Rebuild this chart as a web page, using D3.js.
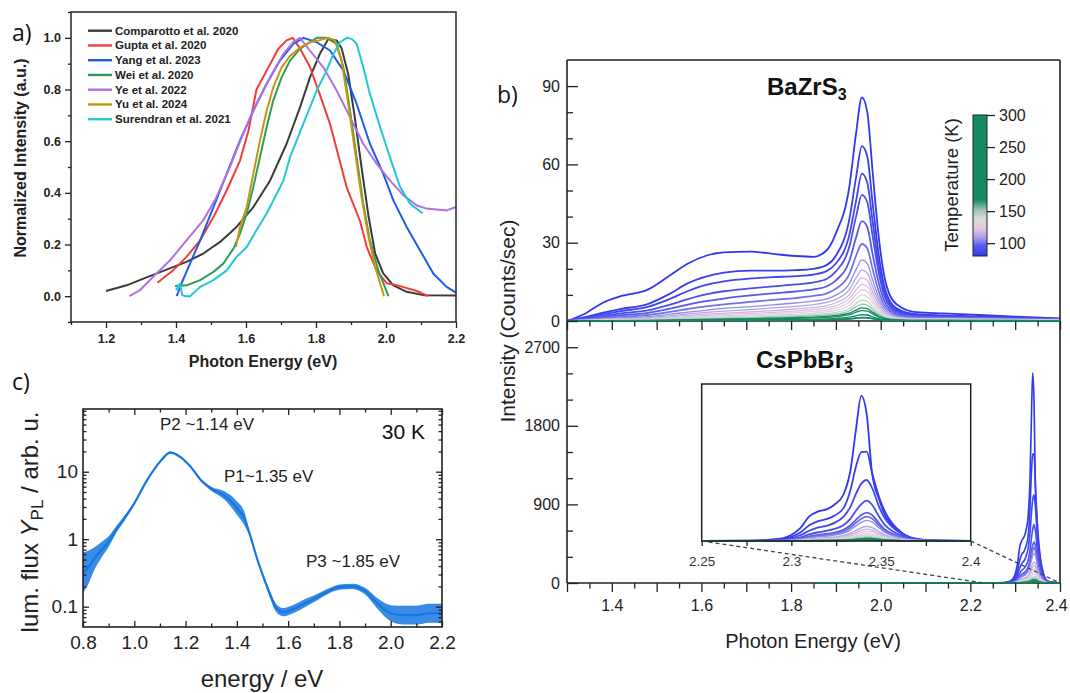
<!DOCTYPE html>
<html><head><meta charset="utf-8">
<script src="https://cdn.jsdelivr.net/npm/d3@7/dist/d3.min.js"></script>
<style>
html,body{margin:0;padding:0;background:#fff;}
svg{display:block;font-family:"Liberation Sans",Arial,sans-serif;}
</style></head>
<body><svg id="fig" width="1070" height="693"></svg>
<script>
// ================= DATA =================
// ---- Panel a: normalized PL of BaZrS3 from literature ([eV, a.u.]) ----
const comparotto = [[1.2,0.02],[1.259,0.042],[1.307,0.068],[1.373,0.103],[1.43,0.133],[1.478,0.165],[1.526,0.21],[1.573,0.268],[1.621,0.345],[1.669,0.448],[1.716,0.59],[1.754,0.73],[1.783,0.848],[1.811,0.938],[1.835,0.995],[1.859,0.99],[1.873,0.96],[1.892,0.86],[1.911,0.69],[1.93,0.5],[1.95,0.31],[1.969,0.165],[1.992,0.088],[2.021,0.042],[2.059,0.017],[2.107,0.004],[2.2,0.003]];
const gupta = [[1.347,0.052],[1.392,0.1],[1.43,0.152],[1.469,0.216],[1.507,0.306],[1.545,0.41],[1.583,0.525],[1.607,0.64],[1.63,0.8],[1.659,0.873],[1.692,0.957],[1.716,0.99],[1.733,1.0],[1.754,0.96],[1.783,0.886],[1.811,0.78],[1.84,0.667],[1.859,0.57],[1.888,0.42],[1.926,0.29],[1.945,0.19],[1.973,0.1],[2.002,0.05],[2.04,0.039],[2.088,0.02],[2.121,0.0]];
const yang = [[1.402,0.0],[1.416,0.05],[1.44,0.126],[1.469,0.216],[1.507,0.345],[1.545,0.474],[1.583,0.603],[1.621,0.718],[1.659,0.822],[1.697,0.912],[1.735,0.977],[1.764,1.0],[1.802,0.983],[1.84,0.951],[1.878,0.874],[1.916,0.745],[1.954,0.59],[1.992,0.474],[2.021,0.371],[2.059,0.268],[2.097,0.178],[2.135,0.088],[2.173,0.036],[2.2,0.014]];
const wei = [[1.397,0.039],[1.43,0.042],[1.469,0.062],[1.507,0.094],[1.535,0.126],[1.564,0.184],[1.583,0.242],[1.602,0.32],[1.621,0.423],[1.64,0.539],[1.659,0.655],[1.678,0.758],[1.702,0.848],[1.726,0.912],[1.754,0.957],[1.783,0.983],[1.802,1.0],[1.83,1.0],[1.859,0.977],[1.878,0.887],[1.897,0.72],[1.916,0.539],[1.935,0.358],[1.954,0.216],[1.978,0.1],[2.007,0.0]];
const ye = [[1.267,0.0],[1.297,0.023],[1.335,0.075],[1.383,0.139],[1.43,0.216],[1.478,0.294],[1.516,0.384],[1.554,0.5],[1.592,0.629],[1.63,0.745],[1.669,0.848],[1.707,0.938],[1.735,0.983],[1.754,1.0],[1.783,0.95],[1.821,0.886],[1.859,0.796],[1.897,0.693],[1.935,0.59],[1.973,0.513],[2.011,0.448],[2.05,0.39],[2.088,0.351],[2.116,0.339],[2.173,0.332],[2.2,0.345]];
const yu = [[1.571,0.19],[1.583,0.268],[1.602,0.345],[1.621,0.474],[1.64,0.603],[1.659,0.718],[1.678,0.809],[1.702,0.886],[1.726,0.93],[1.754,0.962],[1.783,0.983],[1.811,0.991],[1.835,1.0],[1.854,0.99],[1.873,0.912],[1.892,0.745],[1.911,0.564],[1.93,0.384],[1.95,0.23],[1.969,0.113],[1.992,0.01],[1.994,0.0]];
const surendran = [[1.4,0.023],[1.411,0.049],[1.418,0.004],[1.425,0.0],[1.44,0.0],[1.469,0.036],[1.507,0.062],[1.545,0.1],[1.573,0.152],[1.602,0.19],[1.63,0.255],[1.659,0.32],[1.688,0.397],[1.707,0.448],[1.726,0.539],[1.745,0.603],[1.764,0.668],[1.783,0.732],[1.802,0.796],[1.826,0.861],[1.85,0.938],[1.869,0.983],[1.888,1.0],[1.902,0.996],[1.916,0.977],[1.935,0.887],[1.954,0.783],[1.983,0.655],[2.011,0.539],[2.04,0.423],[2.069,0.358],[2.105,0.32]];
const aNames = ["Comparotto et al. 2020","Gupta et al. 2020","Yang et al. 2023","Wei et al. 2020","Ye et al. 2022","Yu et al. 2024","Surendran et al. 2021"];
const aColors = ["#3a3a3a","#f23b3b","#1f5ce6","#2c9e57","#b070e8","#c99510","#22c8d2"];
const aTickX = [1.2,1.4,1.6,1.8,2.0,2.2];
const aMinorX = [1.1,1.3,1.5,1.7,1.9,2.1];
const aTickY = [0,0.2,0.4,0.6,0.8,1.0];
const aMinorY = [-0.1,0.1,0.3,0.5,0.7,0.9,1.1];

// ---- Panel b top: BaZrS3 temperature-dependent PL ----
const bazE = [1.30,1.34,1.38,1.42,1.48,1.53,1.57,1.61,1.65,1.71,1.76,1.81,1.85,1.88,1.90,1.93,1.945,1.958,1.97,1.982,1.995,2.007,2.022,2.045,2.08,2.14,2.22,2.30,2.40];
const tempsK = [80,83,86,90,95,100,105,110,116,121,127,134,142,152,168,200,250,300];
const bazI = [
 [0,2.8,7,9.5,12,17.5,22,25,26.3,26.6,25.7,24.9,24.6,27.2,33.6,51.5,72,85.7,80,57,33,18,9.3,5.3,3.4,2.9,2.3,1.7,1.0],
 [0,1.5,3.2,4.6,6.5,10.5,14.5,17,18.5,19.3,19.3,19.5,20,21.5,25,39,55,67,63,45,26,14,7.2,4,2.6,2.1,1.7,1.3,0.8],
 [0,1.2,2.6,3.8,5.4,8.5,11.5,13.8,15.2,16.3,16.8,17.2,17.8,19.2,22,33,46,56.5,53,38,22,12,6.2,3.4,2.2,1.8,1.5,1.1,0.7],
 [0,0.9,2.0,2.9,4.1,6.3,8.4,10.2,11.4,12.5,13.3,14,14.8,16.2,19,28.5,40,48.3,45.5,32.5,19,10.3,5.3,2.9,1.9,1.6,1.3,1.0,0.6],
 [0,0.7,1.5,2.2,3.1,4.7,6.3,7.6,8.6,9.8,10.6,11.3,12.1,13.3,15.6,23,32,38.3,36,25.5,15,8.2,4.3,2.4,1.6,1.4,1.2,0.9,0.6],
 [0,0.5,1.1,1.6,2.3,3.5,4.6,5.6,6.4,7.3,8.1,8.8,9.6,10.6,12.4,18,25,29.5,27.8,19.8,11.7,6.4,3.4,1.9,1.3,1.2,1.0,0.8,0.5],
 [0,0.4,0.8,1.2,1.7,2.6,3.4,4.1,4.8,5.5,6.2,6.9,7.6,8.5,9.9,14.3,19.8,23.4,22,15.7,9.3,5.1,2.7,1.5,1.1,1.0,0.9,0.7,0.5],
 [0,0.3,0.6,0.9,1.3,2.0,2.7,3.3,3.8,4.4,5.0,5.6,6.3,7.1,8.3,12,16.5,19.5,18.4,13.1,7.8,4.3,2.3,1.3,0.9,0.9,0.8,0.6,0.4],
 [0,0.25,0.5,0.7,1.0,1.6,2.1,2.6,3.0,3.5,4.0,4.6,5.2,5.9,7.0,10.1,14,16.5,15.6,11.1,6.6,3.6,1.9,1.1,0.8,0.8,0.7,0.5,0.4],
 [0,0.2,0.4,0.6,0.8,1.3,1.7,2.1,2.5,2.9,3.3,3.8,4.4,5.0,5.9,8.6,11.9,14,13.2,9.4,5.6,3.1,1.6,0.9,0.7,0.7,0.6,0.5,0.3],
 [0,0.15,0.3,0.45,0.65,1.0,1.35,1.7,2.0,2.4,2.8,3.2,3.7,4.2,5.0,7.3,10.1,12,11.3,8.0,4.8,2.6,1.4,0.8,0.6,0.6,0.5,0.4,0.3],
 [0,0.1,0.25,0.35,0.5,0.8,1.1,1.35,1.6,1.9,2.25,2.6,3.0,3.5,4.1,6.0,8.4,10,9.4,6.7,4.0,2.2,1.2,0.7,0.5,0.5,0.4,0.35,0.25],
 [0,0.1,0.2,0.3,0.4,0.6,0.85,1.05,1.25,1.5,1.8,2.1,2.4,2.8,3.3,4.8,6.7,8,7.5,5.4,3.2,1.8,0.95,0.55,0.4,0.4,0.35,0.3,0.2],
 [0,0.05,0.15,0.2,0.3,0.5,0.65,0.8,1.0,1.2,1.45,1.7,1.95,2.3,2.7,3.9,5.5,6.5,6.1,4.4,2.6,1.45,0.8,0.45,0.35,0.3,0.3,0.25,0.2],
 [0,0.05,0.1,0.15,0.2,0.35,0.5,0.6,0.75,0.9,1.1,1.3,1.5,1.75,2.1,3.0,4.2,5,4.7,3.4,2.0,1.1,0.6,0.35,0.25,0.25,0.2,0.2,0.15],
 [0,0.04,0.08,0.12,0.16,0.28,0.4,0.48,0.6,0.72,0.88,1.04,1.2,1.4,1.7,2.4,3.4,4,3.8,2.7,1.6,0.9,0.5,0.3,0.2,0.2,0.16,0.16,0.12],
 [0,0.03,0.05,0.07,0.1,0.17,0.24,0.3,0.36,0.44,0.53,0.62,0.72,0.84,1.0,1.45,2.0,2.4,2.3,1.6,0.95,0.55,0.3,0.18,0.12,0.12,0.1,0.1,0.08],
 [0,0.02,0.03,0.04,0.06,0.1,0.14,0.17,0.2,0.25,0.3,0.35,0.4,0.48,0.56,0.8,1.1,1.3,1.25,0.9,0.55,0.3,0.17,0.1,0.07,0.07,0.06,0.06,0.05]
];
// ---- Panel b bottom: CsPbBr3 temperature-dependent PL ----
const csE = [1.86,2.25,2.277,2.292,2.299,2.305,2.31,2.315,2.32,2.324,2.329,2.333,2.336,2.339,2.342,2.345,2.349,2.352,2.356,2.362,2.367,2.375,2.39,2.4];
const csI = [
 [0,0,5,33,88,215,408,490,529,600,766,1180,1840,2405,2100,1124,683,440,270,120,50,15,4,0],
 [0,0,4,22,60,140,260,330,365,420,540,850,1230,1470,1480,1130,720,500,300,130,52,16,4,0],
 [0,0,3,14,40,95,170,225,255,300,400,570,780,950,1010,880,560,380,240,110,45,14,3,0],
 [0,0,2,9,25,60,110,145,170,200,260,370,500,610,668,600,400,270,170,80,33,10,2,0],
 [0,0,1,6,17,42,78,102,120,140,185,260,350,430,470,430,290,195,125,58,24,8,2,0],
 [0,0,1,5,14,35,65,86,100,118,156,222,300,370,405,372,252,170,108,50,21,7,2,0],
 [0,0,1,4,11,28,53,70,82,97,128,185,250,308,340,315,215,145,92,43,18,6,1,0],
 [0,0,0.5,3,8,19,36,48,57,67,89,130,176,218,240,224,154,104,66,31,13,4,1,0],
 [0,0,0.5,2,6,15,29,39,46,54,72,106,144,178,196,184,127,86,55,26,11,3,1,0],
 [0,0,0,2,5,12,23,31,37,44,58,86,117,144,159,150,104,71,45,21,9,3,1,0],
 [0,0,0,1,4,9,17,23,28,33,44,65,88,109,120,114,80,54,35,16,7,2,0,0],
 [0,0,0,1,3,7,14,19,23,27,36,53,72,89,98,94,66,45,29,14,6,2,0,0],
 [0,0,0,1,2,5,11,15,18,21,28,41,56,69,76,73,52,35,23,11,5,1,0,0],
 [0,0,0,0,2,4,8,11,14,16,22,32,44,54,59,57,41,28,18,9,4,1,0,0],
 [0,0,0,0,1,3,6,8,10,12,16,23,32,40,43,42,30,21,13,7,3,1,0,0],
 [0,0,0,0,1,2,4,6,7,9,12,17,23,29,31,31,22,15,10,5,2,1,0,0],
 [0,0,0,0,1,1,3,4,5,6,8,12,16,20,22,21,15,10,7,3,1,0,0,0],
 [0,0,0,0,0,1,2,3,3,4,5,7,10,12,14,13,10,7,4,2,1,0,0,0]
];
const cbStopsT = [80,96,110,124,138,152,168,300];
const cbStopsC = ["#3038ee","#5a5cea","#b0a6e6","#e8c8e4","#d4dcd6","#9cc4b0","#138a5f","#138a5f"];
const cbTicks = [100,150,200,250,300];
const bTickX = [1.4,1.6,1.8,2.0,2.2,2.4];
const bMajorX = [1.3,1.4,1.5,1.6,1.7,1.8,1.9,2.0,2.1,2.2,2.3,2.4];
const bMinorX = [1.35,1.45,1.55,1.65,1.75,1.85,1.95,2.05,2.15,2.25,2.35];
const bTopTickY = [0,30,60,90];
const bTopMinorY = [10,20,40,50,70,80];
const bBotTickY = [0,900,1800,2700];
const bBotMinorY = [300,600,1200,1500,2100,2400];
const insetTickX = [2.25,2.3,2.35,2.4];
const insetMinorX = [2.275,2.325,2.375];
const insetLinks = [[2.25,2.23],[2.4,2.4]];

// ---- Panel c: PL at 30 K (log scale) ----
const cE =    [0.80,0.82,0.84,0.87,0.90,0.93,0.96,1.00,1.05,1.10,1.14,1.18,1.22,1.26,1.30,1.35,1.40,1.43,1.45,1.48,1.50,1.53,1.55,1.58,1.62,1.66,1.70,1.75,1.80,1.85,1.90,1.95,2.00,2.05,2.10,2.15,2.20];
const cFlux = [0.32,0.38,0.49,0.68,0.92,1.4,2.0,3.4,7.5,14,19.2,16.5,11.8,7.5,5.6,4.5,2.9,2.0,1.2,0.5,0.3,0.15,0.1,0.083,0.092,0.11,0.13,0.165,0.195,0.2,0.17,0.11,0.08,0.075,0.075,0.08,0.08];
const cNoise = [0.3,0.25,0.18,0.12,0.08,0.05,0.04,0.02,0.015,0.015,0.015,0.015,0.015,0.02,0.03,0.06,0.1,0.1,0.03,0.02,0.02,0.05,0.06,0.06,0.06,0.06,0.05,0.04,0.04,0.04,0.05,0.08,0.12,0.14,0.14,0.14,0.14];
const cTickX = [0.8,1.0,1.2,1.4,1.6,1.8,2.0,2.2];
const cMinorX = [0.9,1.1,1.3,1.5,1.7,1.9,2.1];
const cTickY = [0.1,1,10];
const cMinorY = [0.06,0.07,0.08,0.09,0.2,0.3,0.4,0.5,0.6,0.7,0.8,0.9,2,3,4,5,6,7,8,9,20,30,40,50,60,70,80];

// ================= DRAW =================
const svg = d3.select("#fig");
const FONT = '"Liberation Sans", Arial, sans-serif';
const LBL = '"Open Sans", "Liberation Sans", sans-serif';

function styleAxis(g, size, weight, color) {
  g.attr("font-family", FONT).attr("font-size", size);
  g.select(".domain").remove();
  g.selectAll(".tick line").attr("stroke", "#222").attr("stroke-width", 1.3);
  g.selectAll(".tick text").attr("fill", color).attr("font-weight", weight);
  return g;
}
function frame(x0, y0, x1, y1, sw, col) {
  svg.append("rect").attr("x", x0).attr("y", y0).attr("width", x1 - x0).attr("height", y1 - y0)
    .attr("fill", "none").attr("stroke", col).attr("stroke-width", sw);
}

// ---------- Panel a ----------
const xA = d3.scaleLinear().domain([1.1, 2.2]).range([71, 456]);
const yA = d3.scaleLinear().domain([-0.1, 1.1]).range([322, 12]);
const aData = [comparotto, gupta, yang, wei, ye, yu, surendran];
const lineA = d3.line().x(d => xA(d[0])).y(d => yA(d[1]));
aData.forEach((s, i) => {
  svg.append("path").attr("d", lineA(s)).attr("fill", "none").attr("stroke", aColors[i])
    .attr("stroke-width", 2).attr("stroke-linejoin", "round");
});
frame(71, 12, 456, 322, 1.6, "#333");
styleAxis(svg.append("g").attr("transform", "translate(0,322)")
  .call(d3.axisBottom(xA).tickValues(aTickX).tickSize(6).tickPadding(6).tickFormat(d3.format(".1f"))), 12.5, "bold", "#222");
styleAxis(svg.append("g").attr("transform", "translate(0,322)")
  .call(d3.axisBottom(xA).tickValues(aMinorX).tickSize(3).tickFormat("")), 12, "bold", "#222");
styleAxis(svg.append("g").attr("transform", "translate(71,0)")
  .call(d3.axisLeft(yA).tickValues(aTickY).tickSize(6).tickPadding(4).tickFormat(d3.format(".1f"))), 12.5, "bold", "#222");
styleAxis(svg.append("g").attr("transform", "translate(71,0)")
  .call(d3.axisLeft(yA).tickValues(aMinorY).tickSize(3).tickFormat("")), 12, "bold", "#222");
svg.append("text").attr("x", 263).attr("y", 367).attr("text-anchor", "middle")
  .attr("font-family", FONT).attr("font-weight", "bold").attr("font-size", 16).attr("fill", "#222").text("Photon Energy (eV)");
svg.append("text").attr("transform", "translate(26,158) rotate(-90)").attr("text-anchor", "middle")
  .attr("font-family", FONT).attr("font-weight", "bold").attr("font-size", 16).attr("fill", "#222").text("Normalized Intensity (a.u.)");
// legend
const leg = svg.append("g");
aNames.forEach((n, i) => {
  const y = 30.7 + i * 14.75;
  leg.append("line").attr("x1", 88).attr("x2", 112).attr("y1", y).attr("y2", y)
    .attr("stroke", aColors[i]).attr("stroke-width", 2.4);
  leg.append("text").attr("x", 115).attr("y", y).attr("dy", "0.35em").attr("font-family", FONT)
    .attr("font-weight", "bold").attr("font-size", 11.5).attr("fill", "#222").text(n);
});
svg.append("text").attr("x", 12).attr("y", 41).attr("font-family", LBL).attr("font-size", 23).attr("fill", "#111").text("a)");

// ---------- Panel c ----------
const xC = d3.scaleLinear().domain([0.8, 2.2]).range([83, 442]);
const yC = d3.scaleLog().domain([0.05, 85]).range([627, 409]);
const cPts = cE.map((e, i) => ({ e, f: cFlux[i], n: cNoise[i] }));
const cBlue = "#1677e0";
svg.append("defs").append("clipPath").attr("id", "clipC").append("rect")
  .attr("x", 83).attr("y", 409).attr("width", 359).attr("height", 218);
const gc = svg.append("g").attr("clip-path", "url(#clipC)");
gc.append("path").attr("d", d3.area().x(d => xC(d.e)).y0(d => yC(d.f * Math.pow(10, -d.n))).y1(d => yC(d.f * Math.pow(10, d.n))).curve(d3.curveMonotoneX)(cPts))
  .attr("fill", cBlue).attr("opacity", 0.85);
gc.append("path").attr("d", d3.line().x(d => xC(d.e)).y(d => yC(d.f)).curve(d3.curveMonotoneX)(cPts))
  .attr("fill", "none").attr("stroke", cBlue).attr("stroke-width", 2.2);
frame(83, 409, 442, 627, 1.6, "#222");
styleAxis(svg.append("g").attr("transform", "translate(0,627)")
  .call(d3.axisBottom(xC).tickValues(cTickX).tickSize(-6).tickPadding(9).tickFormat(d3.format(".1f"))), 19, "normal", "#222");
styleAxis(svg.append("g").attr("transform", "translate(0,627)")
  .call(d3.axisBottom(xC).tickValues(cMinorX).tickSize(-3.5).tickFormat("")), 19, "normal", "#222");
styleAxis(svg.append("g").attr("transform", "translate(0,409)")
  .call(d3.axisTop(xC).tickValues(cTickX).tickSize(-6).tickFormat("")), 19, "normal", "#222");
styleAxis(svg.append("g").attr("transform", "translate(0,409)")
  .call(d3.axisTop(xC).tickValues(cMinorX).tickSize(-3.5).tickFormat("")), 19, "normal", "#222");
styleAxis(svg.append("g").attr("transform", "translate(83,0)")
  .call(d3.axisLeft(yC).tickValues(cTickY).tickSize(-6).tickPadding(5).tickFormat(d => d3.format("~g")(d))), 19, "normal", "#222");
styleAxis(svg.append("g").attr("transform", "translate(83,0)")
  .call(d3.axisLeft(yC).tickValues(cMinorY).tickSize(-3.5).tickFormat("")), 19, "normal", "#222");
styleAxis(svg.append("g").attr("transform", "translate(442,0)")
  .call(d3.axisRight(yC).tickValues(cTickY).tickSize(-6).tickFormat("")), 19, "normal", "#222");
styleAxis(svg.append("g").attr("transform", "translate(442,0)")
  .call(d3.axisRight(yC).tickValues(cMinorY).tickSize(-3.5).tickFormat("")), 19, "normal", "#222");
svg.append("text").attr("x", 262).attr("y", 687).attr("text-anchor", "middle").attr("font-family", FONT)
  .attr("font-size", 24).attr("fill", "#222").text("energy / eV");
const cy = svg.append("text").attr("transform", "translate(38,522) rotate(-90)").attr("text-anchor", "middle")
  .attr("font-family", FONT).attr("font-size", 24).attr("fill", "#222");
cy.append("tspan").text("lum. flux ");
cy.append("tspan").attr("font-style", "italic").text("Y");
cy.append("tspan").attr("font-size", 17).attr("dy", 5).text("PL");
cy.append("tspan").attr("dy", -5).text(" / arb. u.");
const ann = [["P2 ~1.14 eV", 160, 430], ["P1~1.35 eV", 224, 482], ["P3 ~1.85 eV", 306, 567]];
ann.forEach(a => svg.append("text").attr("x", a[1]).attr("y", a[2]).attr("font-family", FONT)
  .attr("font-size", 17).attr("fill", "#222").text(a[0]));
svg.append("text").attr("x", 425).attr("y", 439).attr("text-anchor", "end").attr("font-family", FONT)
  .attr("font-size", 21).attr("fill", "#111").text("30 K");
svg.append("text").attr("x", 12).attr("y", 390).attr("font-family", LBL).attr("font-size", 23).attr("fill", "#111").text("c)");

// ---------- Panel b ----------
const xB = d3.scaleLinear().domain([1.3, 2.4]).range([567, 1060]);
const yTop = d3.scaleLinear().domain([0, 100]).range([321, 60]);
const yBot = d3.scaleLinear().domain([0, 3000]).range([583, 321]);
const xIn = d3.scaleLinear().domain([2.25, 2.4]).range([701.7, 970.7]);
const yIn = d3.scaleLinear().domain([0, 2600]).range([541, 384]);
const tColor = d3.scaleLinear().domain(cbStopsT).range(cbStopsC).clamp(true);
const lw = t => (t <= 100 ? 1.8 : 1.3);

// BaZrS3 curves
bazI.forEach((vals, k) => {
  const pts = vals.map((v, i) => [bazE[i], v]);
  svg.append("path").attr("d", d3.line().x(d => xB(d[0])).y(d => yTop(d[1])).curve(d3.curveMonotoneX)(pts))
    .attr("fill", "none").attr("stroke", tColor(tempsK[k])).attr("stroke-width", lw(tempsK[k]));
});
// CsPbBr3 main curves
csI.forEach((vals, k) => {
  const pts = vals.map((v, i) => [csE[i], v]);
  svg.append("path").attr("d", d3.line().x(d => xB(d[0])).y(d => yBot(d[1])).curve(d3.curveMonotoneX)(pts))
    .attr("fill", "none").attr("stroke", tColor(tempsK[k])).attr("stroke-width", lw(tempsK[k]) * 0.9);
});
// frame & axes
svg.append("line").attr("x1", 567).attr("x2", 567).attr("y1", 60).attr("y2", 583).attr("stroke", "#222").attr("stroke-width", 1.6);
svg.append("line").attr("x1", 1060).attr("x2", 1060).attr("y1", 60).attr("y2", 583).attr("stroke", "#222").attr("stroke-width", 1.6);
svg.append("line").attr("x1", 567).attr("x2", 1060).attr("y1", 60).attr("y2", 60).attr("stroke", "#222").attr("stroke-width", 1.6);
svg.append("line").attr("x1", 567).attr("x2", 1060).attr("y1", 321).attr("y2", 321).attr("stroke", "#222").attr("stroke-width", 1.6);
svg.append("line").attr("x1", 567).attr("x2", 1060).attr("y1", 583).attr("y2", 583).attr("stroke", "#222").attr("stroke-width", 1.6);
// redraw green baselines on top of axis lines (high-T curves)
[csI.length - 1].forEach(k => {
  const pts = csI[k].map((v, i) => [csE[i], v]);
  svg.append("path").attr("d", d3.line().x(d => xB(d[0])).y(d => yBot(d[1])).curve(d3.curveMonotoneX)(pts))
    .attr("fill", "none").attr("stroke", tColor(tempsK[k])).attr("stroke-width", 1.6);
  const pts2 = bazI[k].map((v, i) => [bazE[i], v]);
  svg.append("path").attr("d", d3.line().x(d => xB(d[0])).y(d => yTop(d[1])).curve(d3.curveMonotoneX)(pts2))
    .attr("fill", "none").attr("stroke", tColor(tempsK[k])).attr("stroke-width", 1.6);
});
[321, 583].forEach((yy, j) => {
  const g = styleAxis(svg.append("g").attr("transform", `translate(0,${yy})`)
    .call(d3.axisBottom(xB).tickValues(bMajorX).tickSize(9).tickPadding(8)
      .tickFormat(d => (j === 1 && bTickX.some(t => Math.abs(t - d) < 1e-9)) ? d3.format(".1f")(d) : "")), 16, "normal", "#222");
  // keep the last label inside the picture
  g.selectAll(".tick text").filter(d => Math.abs(d - 2.4) < 1e-9).attr("dx", -4);
  styleAxis(svg.append("g").attr("transform", `translate(0,${yy})`)
    .call(d3.axisBottom(xB).tickValues(bMinorX).tickSize(5.5).tickFormat("")), 16, "normal", "#222");
});
styleAxis(svg.append("g").attr("transform", "translate(567,0)")
  .call(d3.axisLeft(yTop).tickValues(bTopTickY).tickSize(-11).tickPadding(7).tickFormat(d3.format("d"))), 16, "normal", "#222");
styleAxis(svg.append("g").attr("transform", "translate(567,0)")
  .call(d3.axisLeft(yTop).tickValues(bTopMinorY).tickSize(-6).tickFormat("")), 16, "normal", "#222");
styleAxis(svg.append("g").attr("transform", "translate(567,0)")
  .call(d3.axisLeft(yBot).tickValues(bBotTickY).tickSize(-11).tickPadding(7).tickFormat(d3.format("d"))), 16, "normal", "#222");
styleAxis(svg.append("g").attr("transform", "translate(567,0)")
  .call(d3.axisLeft(yBot).tickValues(bBotMinorY).tickSize(-6).tickFormat("")), 16, "normal", "#222");

// inset
svg.append("rect").attr("x", 701.7).attr("y", 384).attr("width", 269).attr("height", 157).attr("fill", "#fff");
svg.select("defs").append("clipPath").attr("id", "clipIn").append("rect")
  .attr("x", 701.7).attr("y", 380).attr("width", 269).attr("height", 162);
const gi = svg.append("g").attr("clip-path", "url(#clipIn)");
csI.forEach((vals, k) => {
  const pts = vals.map((v, i) => [csE[i], v]);
  gi.append("path").attr("d", d3.line().x(d => xIn(d[0])).y(d => yIn(d[1])).curve(d3.curveMonotoneX)(pts))
    .attr("fill", "none").attr("stroke", tColor(tempsK[k])).attr("stroke-width", lw(tempsK[k]));
});
svg.append("rect").attr("x", 701.7).attr("y", 384).attr("width", 269).attr("height", 157)
  .attr("fill", "none").attr("stroke", "#222").attr("stroke-width", 1.5);
{
  const k = csI.length - 1;
  const pts = csI[k].map((v, i) => [csE[i], v]);
  gi.append("path").attr("d", d3.line().x(d => xIn(d[0])).y(d => yIn(d[1])).curve(d3.curveMonotoneX)(pts))
    .attr("fill", "none").attr("stroke", tColor(tempsK[k])).attr("stroke-width", 2);
}
styleAxis(svg.append("g").attr("transform", "translate(0,541)")
  .call(d3.axisBottom(xIn).tickValues(insetTickX).tickSize(5).tickPadding(10).tickFormat(d => d3.format("~g")(d))), 13.5, "normal", "#333");
styleAxis(svg.append("g").attr("transform", "translate(0,541)")
  .call(d3.axisBottom(xIn).tickValues(insetMinorX).tickSize(5).tickFormat("")), 13.5, "normal", "#333");
insetLinks.forEach(l => {
  svg.append("line").attr("x1", xIn(l[0])).attr("y1", yIn(0)).attr("x2", xB(l[1])).attr("y2", yBot(0))
    .attr("stroke", "#444").attr("stroke-width", 1.3).attr("stroke-dasharray", "4,3");
});

// titles
const t1 = svg.append("text").attr("x", 767).attr("y", 95).attr("font-family", FONT).attr("font-weight", "bold")
  .attr("font-size", 24).attr("fill", "#111");
t1.append("tspan").text("BaZrS");
t1.append("tspan").attr("font-size", 16).attr("dy", 5).text("3");
const t2 = svg.append("text").attr("x", 756).attr("y", 368).attr("font-family", FONT).attr("font-weight", "bold")
  .attr("font-size", 24).attr("fill", "#111");
t2.append("tspan").text("CsPbBr");
t2.append("tspan").attr("font-size", 16).attr("dy", 5).text("3");
svg.append("text").attr("x", 813).attr("y", 648).attr("text-anchor", "middle").attr("font-family", FONT)
  .attr("font-size", 20).attr("fill", "#222").text("Photon Energy (eV)");
svg.append("text").attr("transform", "translate(515,321) rotate(-90)").attr("text-anchor", "middle")
  .attr("font-family", FONT).attr("font-size", 21).attr("fill", "#222").text("Intensity (Counts/sec)");
svg.append("text").attr("x", 497).attr("y", 103).attr("font-family", LBL).attr("font-size", 23).attr("fill", "#111").text("b)");

// colorbar
const yCb = d3.scaleLinear().domain([80, 300]).range([256, 115]);
const grad = svg.select("defs").append("linearGradient").attr("id", "cbGrad")
  .attr("x1", 0).attr("y1", 1).attr("x2", 0).attr("y2", 0);
cbStopsT.forEach((t, i) => grad.append("stop").attr("offset", (t - 80) / 220).attr("stop-color", cbStopsC[i]));
svg.append("rect").attr("x", 973).attr("y", 115).attr("width", 14).attr("height", 141)
  .attr("fill", "url(#cbGrad)").attr("stroke", "#222").attr("stroke-width", 1);
styleAxis(svg.append("g").attr("transform", "translate(987,0)")
  .call(d3.axisRight(yCb).tickValues(cbTicks).tickSize(8).tickPadding(4).tickFormat(d3.format("d"))), 16, "normal", "#222");
svg.append("text").attr("transform", "translate(958,185) rotate(-90)").attr("text-anchor", "middle")
  .attr("font-family", FONT).attr("font-size", 18.5).attr("fill", "#222").text("Temperature (K)");
</script></body></html>
